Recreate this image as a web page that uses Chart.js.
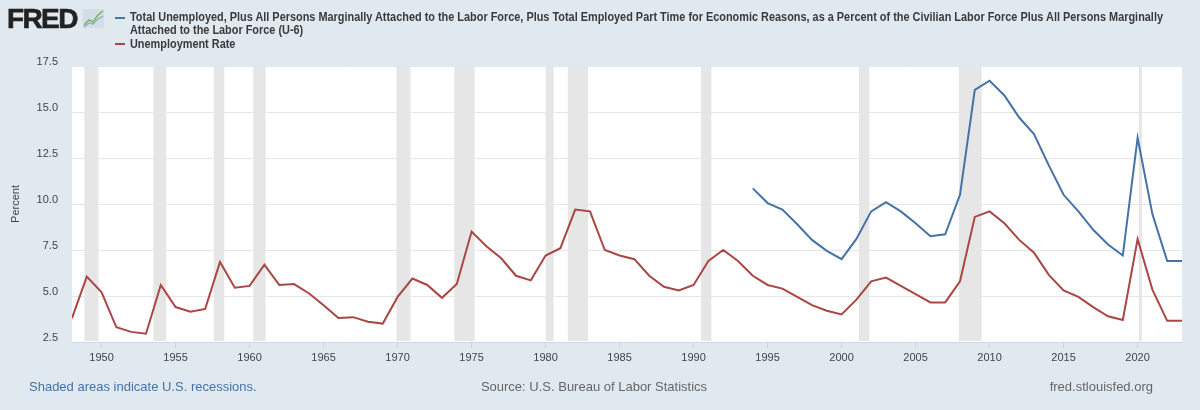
<!DOCTYPE html>
<html>
<head>
<meta charset="utf-8">
<script src="https://cdn.jsdelivr.net/npm/chart.js@4.4.1/dist/chart.umd.min.js"></script>
<style>
  html, body { margin: 0; padding: 0; }
  body { width: 1200px; height: 410px; background: #e1e9f0; position: relative; overflow: hidden;
         font-family: "Liberation Sans", Arial, sans-serif; }
  #c { position: absolute; left: 0; top: 0; }
  .logo { position: absolute; left: 7px; top: 3px; font: bold 28px "Liberation Sans", Arial, sans-serif;
          letter-spacing: -1.6px; color: #222; -webkit-text-stroke: 0.6px #222; }
  .logo svg { position: absolute; left: 76px; top: 6px; }
  .leg { position: absolute; left: 130px; font-size: 12px; color: #3a3a3a; white-space: nowrap; line-height: 13px;
         font-weight: bold; transform-origin: 0 50%; }
  .dash { position: absolute; left: 115px; width: 10px; height: 2px; }
  .foot { position: absolute; top: 379px; font-size: 13px; white-space: nowrap; }
</style>
</head>
<body>
<canvas id="c" width="1200" height="410"></canvas>
<div class="logo">FRED<svg width="21" height="19" viewBox="0 0 21 19">
  <rect x="0" y="0" width="21" height="19" fill="#d3dde6"/>
  <polyline points="1,16 6,11 10,13 15,6 20,2" fill="none" stroke="#7ab55c" stroke-width="1.5"/>
  <polyline points="1,18 6,14 10,15 15,10 20,7" fill="none" stroke="#8fa9c8" stroke-width="1.2"/>
</svg></div>
<div id="legend"></div>
<div class="foot" style="left:29px;color:#4572a7;">Shaded areas indicate U.S. recessions.</div>
<div class="foot" style="left:0;width:1188px;text-align:center;color:#666;">Source: U.S. Bureau of Labor Statistics</div>
<div class="foot" style="right:47px;color:#666;">fred.stlouisfed.org</div>
<script>
// ---- data ----
const years = [1948,1949,1950,1951,1952,1953,1954,1955,1956,1957,1958,1959,1960,1961,1962,1963,1964,1965,1966,1967,
  1968,1969,1970,1971,1972,1973,1974,1975,1976,1977,1978,1979,1980,1981,1982,1983,1984,1985,1986,1987,
  1988,1989,1990,1991,1992,1993,1994,1995,1996,1997,1998,1999,2000,2001,2002,2003,2004,2005,2006,2007,
  2008,2009,2010,2011,2012,2013,2014,2015,2016,2017,2018,2019,2020,2021,2022,2023];
const unrate = [3.8,6.05,5.2,3.3,3.05,2.95,5.6,4.4,4.15,4.3,6.85,5.45,5.55,6.7,5.6,5.65,5.15,4.5,3.8,3.85,
  3.6,3.5,4.95,5.95,5.6,4.9,5.65,8.5,7.7,7.05,6.1,5.85,7.2,7.6,9.7,9.6,7.5,7.2,7.0,6.1,
  5.5,5.3,5.6,6.9,7.5,6.9,6.1,5.6,5.4,4.95,4.5,4.2,4.0,4.8,5.8,6.0,5.55,5.1,4.65,4.65,
  5.8,9.3,9.6,8.95,8.05,7.35,6.15,5.3,4.95,4.4,3.9,3.7,8.1,5.35,3.65,3.65];
const u6Years = [1994,1995,1996,1997,1998,1999,2000,2001,2002,2003,2004,2005,2006,2007,2008,2009,2010,2011,2012,2013,
  2014,2015,2016,2017,2018,2019,2020,2021,2022,2023];
const u6 = [10.85,10.05,9.7,8.9,8.05,7.45,7.0,8.1,9.6,10.1,9.6,8.95,8.25,8.35,10.5,16.2,16.7,15.9,14.7,13.8,
  12.1,10.5,9.6,8.6,7.8,7.2,13.6,9.45,6.9,6.9];
// recession periods (decimal years, NBER peak to trough)
const recStart = [1948.83,1953.5,1957.58,1960.25,1969.92,1973.83,1980.0,1981.5,1990.5,2001.17,2007.92,2020.08];
const recEnd   = [1949.79,1954.37,1958.29,1961.08,1970.87,1975.2,1980.54,1982.87,1991.2,2001.87,2009.46,2020.29];
const xTicks = [1950,1955,1960,1965,1970,1975,1980,1985,1990,1995,2000,2005,2010,2015,2020];
const yTicks = [2.5,5.0,7.5,10.0,12.5,15.0,17.5];
const seriesLabels = [
  "Total Unemployed, Plus All Persons Marginally Attached to the Labor Force, Plus Total Employed Part Time for Economic Reasons, as a Percent of the Civilian Labor Force Plus All Persons Marginally",
  "Attached to the Labor Force (U-6)",
  "Unemployment Rate"
];
const colors = ["#4572a7", "#aa4643"];

// ---- legend (html) ----
const lg = document.getElementById('legend');
lg.innerHTML =
  '<div class="dash" style="top:17px;background:'+colors[0]+'"></div>' +
  '<div class="leg" style="top:11px"><span id="l1">'+seriesLabels[0]+'</span><br><span id="l2">'+seriesLabels[1]+'</span></div>' +
  '<div class="dash" style="top:43px;background:'+colors[1]+'"></div>' +
  '<div class="leg" style="top:37.5px"><span id="l3">'+seriesLabels[2]+'</span></div>';
// condense the legend text horizontally so the long first line ends near x=1163 as in the reference
(function fit() {
  const s = document.getElementById('l1');
  const w = s.getBoundingClientRect().width;
  const k = 1033 / w;
  document.querySelectorAll('.leg').forEach(el => el.style.transform = 'scaleX(' + k + ')');
})();

// ---- chart ----
const recessionPlugin = {
  id: 'recessions',
  beforeDatasetsDraw(chart) {
    const {ctx, chartArea, scales} = chart;
    ctx.save();
    ctx.fillStyle = '#e6e6e6';
    for (let i = 0; i < recStart.length; i++) {
      const x0 = scales.x.getPixelForValue(recStart[i]);
      const x1 = scales.x.getPixelForValue(recEnd[i]);
      ctx.fillRect(x0, chartArea.top, Math.max(x1 - x0, 2), chartArea.bottom - chartArea.top - 1);
    }
    ctx.restore();
  }
};
const bgPlugin = {
  id: 'plotbg',
  beforeDraw(chart) {
    const {ctx, chartArea} = chart;
    ctx.save();
    ctx.fillStyle = '#ffffff';
    ctx.fillRect(chartArea.left, chartArea.top, chartArea.right - chartArea.left, chartArea.bottom - chartArea.top);
    ctx.restore();
  }
};

new Chart(document.getElementById('c'), {
  type: 'line',
  data: {
    datasets: [
      { label: seriesLabels[0] + ' ' + seriesLabels[1],
        data: u6Years.map((y, i) => ({x: y, y: u6[i]})),
        borderColor: colors[0], borderWidth: 2, pointRadius: 0, tension: 0, fill: false },
      { label: seriesLabels[2],
        data: years.map((y, i) => ({x: y, y: unrate[i]})),
        borderColor: colors[1], borderWidth: 2, pointRadius: 0, tension: 0, fill: false }
    ]
  },
  options: {
    responsive: false,
    animation: false,
    devicePixelRatio: 1,
    layout: { padding: { left: 0, top: 66, right: 18, bottom: 0 } },
    plugins: { legend: { display: false }, tooltip: { enabled: false } },
    scales: {
      x: {
        type: 'linear', min: 1948, max: 2023,
        afterBuildTicks: s => { s.ticks = xTicks.map(v => ({value: v})); },
        afterFit: s => { s.height = 68; },
        grid: { drawOnChartArea: false, drawTicks: true, tickLength: 6, color: '#ccd6eb' },
        border: { color: '#ccd6eb', width: 1 },
        ticks: { callback: v => String(v), color: '#444', font: { size: 11, family: '"Liberation Sans", Arial, sans-serif' },
                 padding: 3, maxRotation: 0, autoSkip: false }
      },
      y: {
        min: 2.5, max: 17.5,
        afterBuildTicks: s => { s.ticks = yTicks.map(v => ({value: v})); },
        afterFit: s => { s.width = 72; },
        grid: { color: '#e6e6e6', drawTicks: false },
        border: { display: false },
        ticks: { callback: v => v.toFixed(1), color: '#444', padding: 14, labelOffset: -4.5,
                 font: { size: 11, family: '"Liberation Sans", Arial, sans-serif' } },
        title: { display: true, text: 'Percent', color: '#444', padding: { top: 9, bottom: 0 },
                 font: { size: 11, family: '"Liberation Sans", Arial, sans-serif' } }
      }
    }
  },
  plugins: [bgPlugin, recessionPlugin]
});
</script>
</body>
</html>
